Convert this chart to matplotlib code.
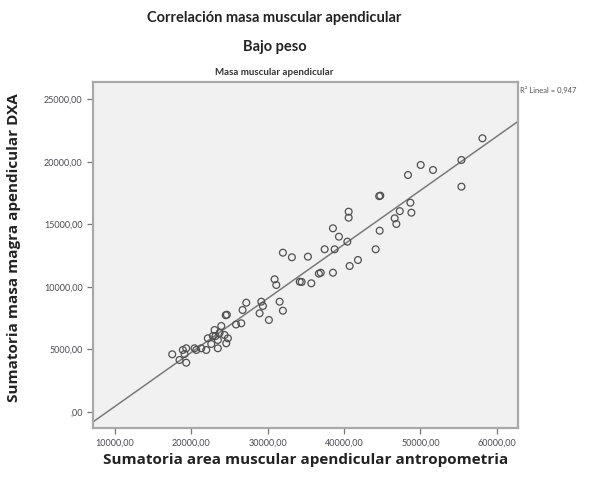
"""Scatter of appendicular muscle mass: DXA vs anthropometric area, underweight group."""

import matplotlib

matplotlib.use("Agg")
import matplotlib.pyplot as plt
import numpy as np
from matplotlib.ticker import FuncFormatter

# Sumatoria area muscular apendicular (antropometria) and DXA lean mass
area_x = np.array([
    58125, 55373, 55373, 50039, 51651, 48374, 48689, 48820, 47300,
    44600, 44750, 40602, 40602, 46631, 46853, 38545, 44665, 39331,
    40432, 37457, 38768, 44141, 35268, 41821, 40733, 36700, 36950,
    38545, 31992, 33171, 30904, 31127, 34200, 34450, 35714, 27195,
    29161, 29371, 31560, 31992, 28938, 30157, 26710, 26540, 25858,
    24500, 24650, 23041, 23919, 22818, 22162, 23473, 24351, 24784,
    24574, 23473, 22608, 21953, 21297, 20419, 19331, 18886, 19109,
    18453, 19331, 17497, 23172, 23696, 20647,
])
dxa_y = np.array([
    21880, 20143, 18007, 19743, 19343, 18943, 16726, 15926, 16050,
    17250, 17290, 16006, 15526, 15478, 15022, 14677, 14485, 14005,
    13605, 12997, 12997, 12997, 12405, 12141, 11660, 11050, 11120,
    11124, 12725, 12357, 10596, 10140, 10400, 10380, 10276, 8723,
    8803, 8459, 8803, 8083, 7875, 7339, 8139, 7075, 6979,
    7720, 7760, 6538, 6859, 6058, 5874, 5738, 6138, 5874,
    5474, 5074, 5418, 4938, 5074, 5074, 5074, 4938, 4618,
    4138, 3921, 4594, 6058, 6298, 4938,
])

# fit summary as printed by the stats package
r2_lineal = 0.947

x_ticks = [10000, 20000, 30000, 40000, 50000, 60000]
y_ticks = [0, 5000, 10000, 15000, 20000, 25000]
x_lim = (7124, 62784)
y_lim = (-1304, 26384)

TITLE_FONT = ["Lato", "DejaVu Sans"]
LABEL_FONT = ["Open Sans", "DejaVu Sans"]


def _spss_fmt(v, _pos=None):
    s = f"{v:.2f}".replace(".", ",")
    return s[1:] if s.startswith("0,") else s


slope, intercept = np.polyfit(area_x, dxa_y, 1)

fig = plt.figure(figsize=(6.10, 4.79), dpi=100)
fig.patch.set_facecolor("white")
ax = fig.add_axes([0.1525, 0.1065, 0.6967, 0.7223])
ax.set_facecolor("#f1f1f1")

ax.scatter(area_x, dxa_y, s=24, facecolors="none", edgecolors="#505050", linewidths=0.9, zorder=3)
xs = np.array(x_lim, dtype=float)
ax.plot(xs, slope * xs + intercept, color="#7a7a7a", linewidth=1.1, zorder=2)

ax.set_xlim(*x_lim)
ax.set_ylim(*y_lim)
ax.set_xticks(x_ticks)
ax.set_yticks(y_ticks)
ax.xaxis.set_major_formatter(FuncFormatter(_spss_fmt))
ax.yaxis.set_major_formatter(FuncFormatter(_spss_fmt))
ax.tick_params(direction="out", length=4, width=0.9, color="#777777", labelcolor="#4a4a55", labelsize=6.5)
for lab in ax.get_xticklabels() + ax.get_yticklabels():
    lab.set_family(TITLE_FONT)
for side, sp in ax.spines.items():
    sp.set_color("#a9a9a9")
    sp.set_linewidth(1.6)

ax.set_xlabel("Sumatoria area muscular apendicular antropometria", fontsize=11,
              fontweight="bold", family=LABEL_FONT, color="#222222", labelpad=4)
ax.set_ylabel("Sumatoria masa magra apendicular DXA", fontsize=11,
              fontweight="bold", family=LABEL_FONT, color="#222222", labelpad=2)
ax.yaxis.set_label_coords(-0.17, 0.52)

fig.text(0.45, 0.963, "Correlación masa muscular apendicular", ha="center", va="center",
         fontsize=10.5, fontweight="bold", family=TITLE_FONT, color="#222222")
fig.text(0.45, 0.902, "Bajo peso", ha="center", va="center",
         fontsize=10.5, fontweight="bold", family=TITLE_FONT, color="#222222")
fig.text(0.45, 0.849, "Masa muscular apendicular", ha="center", va="center",
         fontsize=7, fontweight="bold", family=TITLE_FONT, color="#333333")
fig.text(0.852, 0.812, f"R² Lineal = {r2_lineal:.3f}".replace(".", ","), ha="left", va="center",
         fontsize=5.5, family=TITLE_FONT, color="#555555")

fig.savefig("out.png", dpi=100, facecolor=fig.get_facecolor())
